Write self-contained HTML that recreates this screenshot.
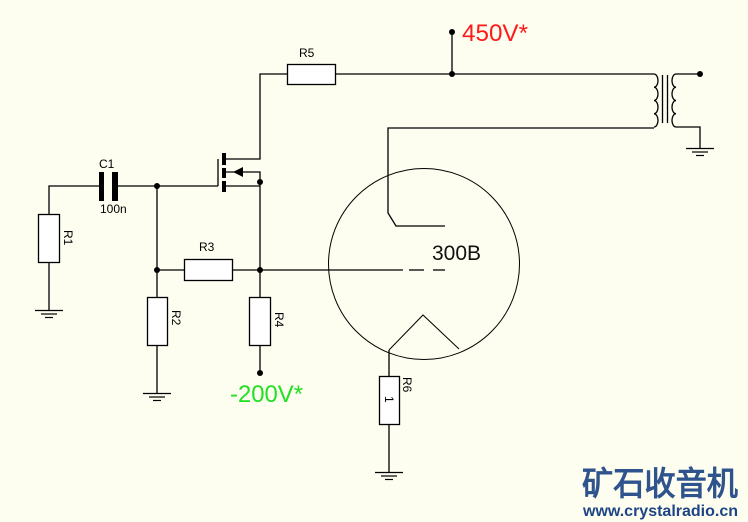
<!DOCTYPE html>
<html><head><meta charset="utf-8"><style>
html,body{margin:0;padding:0;background:#fdfdf0;}
svg{display:block;}
text{font-family:"Liberation Sans",sans-serif;}
</style></head><body>
<svg width="748" height="522" viewBox="0 0 748 522" xmlns="http://www.w3.org/2000/svg">
<rect width="748" height="522" fill="#fdfdf0"/>
<g stroke="#000" stroke-width="1.3" fill="none">
<polyline points="49,214 49,186 100,186"/>
<line x1="49" y1="262" x2="49" y2="310"/>
<rect x="38.5" y="214.5" width="21" height="48" fill="#fff"/>
<line x1="117" y1="186" x2="218" y2="186"/>
<line x1="218" y1="186" x2="218" y2="159"/>
<line x1="157" y1="186" x2="157" y2="393"/>
<rect x="147.5" y="297.5" width="20" height="48" fill="#fff"/>
<line x1="157" y1="270" x2="403" y2="270"/>
<line x1="409" y1="270" x2="424" y2="270"/>
<line x1="433" y1="270" x2="445" y2="270"/>
<rect x="184.5" y="259.5" width="48" height="21" fill="#fff"/>
<polyline points="226,172 260,172 260,373"/>
<line x1="226" y1="186" x2="260" y2="186"/>
<rect x="249.5" y="297.5" width="21" height="48" fill="#fff"/>
<polyline points="226,159 260,159 260,74 654,74"/>
<rect x="287.5" y="64.5" width="48" height="20" fill="#fff"/>
<line x1="452" y1="74" x2="452" y2="32"/>
<polyline points="654,128 388,128 388,213 396,226 445,226"/>
<circle cx="424" cy="264" r="95.5" stroke-width="1"/>
<polyline points="389,350 423,315 459,349" stroke-width="1"/>
<line x1="389" y1="350" x2="389" y2="472"/>
<rect x="379.5" y="376.5" width="20" height="48" fill="#fff"/>
<path d="M654,74 h0 a4,6.6 0 0 1 0,13.25 a4,6.6 0 0 1 0,13.25 a4,6.6 0 0 1 0,13.25 a4,6.6 0 0 1 0,13.25" />
<path d="M676,74 a4,6.6 0 0 0 0,13.25 a4,6.6 0 0 0 0,13.25 a4,6.6 0 0 0 0,13.25 a4,6.6 0 0 0 0,13.25"/>
<line x1="662.5" y1="75" x2="662.5" y2="123"/>
<line x1="667.5" y1="75" x2="667.5" y2="123"/>
<line x1="676" y1="74" x2="700" y2="74"/>
<polyline points="676,127 700,127 700,148"/>
</g>
<g fill="#000">
<rect x="222" y="153" width="4" height="12"/>
<rect x="222" y="168" width="4" height="10"/>
<rect x="222" y="181" width="4" height="11"/>
<polygon points="233,172 243,167 243,177"/>
<rect x="99" y="172" width="5" height="29"/>
<rect x="112" y="172" width="6" height="29"/>
<circle cx="157" cy="186" r="3"/>
<circle cx="157" cy="270" r="3"/>
<circle cx="260" cy="270" r="3"/>
<circle cx="260" cy="182" r="3"/>
<circle cx="260" cy="373" r="3"/>
<circle cx="452" cy="74" r="3"/>
<circle cx="452" cy="32" r="3"/>
<circle cx="700" cy="74" r="3"/>
</g>
<g stroke="#000" stroke-width="1.2">
<line x1="35" y1="310.5" x2="63" y2="310.5"/><line x1="41" y1="314" x2="57" y2="314"/><line x1="45" y1="317.5" x2="53" y2="317.5"/>
<line x1="143" y1="393.5" x2="171" y2="393.5"/><line x1="149" y1="397" x2="165" y2="397"/><line x1="153" y1="400.5" x2="161" y2="400.5"/>
<line x1="375" y1="472.5" x2="403" y2="472.5"/><line x1="381" y1="476" x2="397" y2="476"/><line x1="385" y1="479.5" x2="393" y2="479.5"/>
<line x1="686" y1="148.5" x2="714" y2="148.5"/><line x1="692" y1="152" x2="708" y2="152"/><line x1="696" y1="155.5" x2="704" y2="155.5"/>
</g>
<g font-size="12" fill="#000">
<text x="99" y="168">C1</text>
<text x="100" y="213">100n</text>
<text x="299" y="57">R5</text>
<text x="199" y="251">R3</text>
<text transform="translate(64,230) rotate(90)">R1</text>
<text transform="translate(172,310) rotate(90)">R2</text>
<text transform="translate(275,312) rotate(90)">R4</text>
<text transform="translate(403,377) rotate(90)">R6</text>
<text transform="translate(385,396) rotate(90)">1</text>
</g>
<text x="432" y="260" font-size="21" fill="#111">300B</text>
<text x="462" y="41" font-size="24" fill="#ff1a1a" textLength="66" lengthAdjust="spacingAndGlyphs">450V*</text>
<text x="230" y="402" font-size="24" fill="#22e022" textLength="73" lengthAdjust="spacingAndGlyphs">-200V*</text>
<text x="582" y="495" font-size="33" font-weight="bold" fill="#1d4585" font-family="'Liberation Sans','Noto Sans CJK SC',sans-serif" textLength="156" lengthAdjust="spacingAndGlyphs" opacity="0.92">矿石收音机</text>
<text x="583" y="516" font-size="16" font-weight="bold" fill="#1d4585" textLength="155" lengthAdjust="spacingAndGlyphs">www.crystalradio.cn</text>
</svg>
</body></html>
